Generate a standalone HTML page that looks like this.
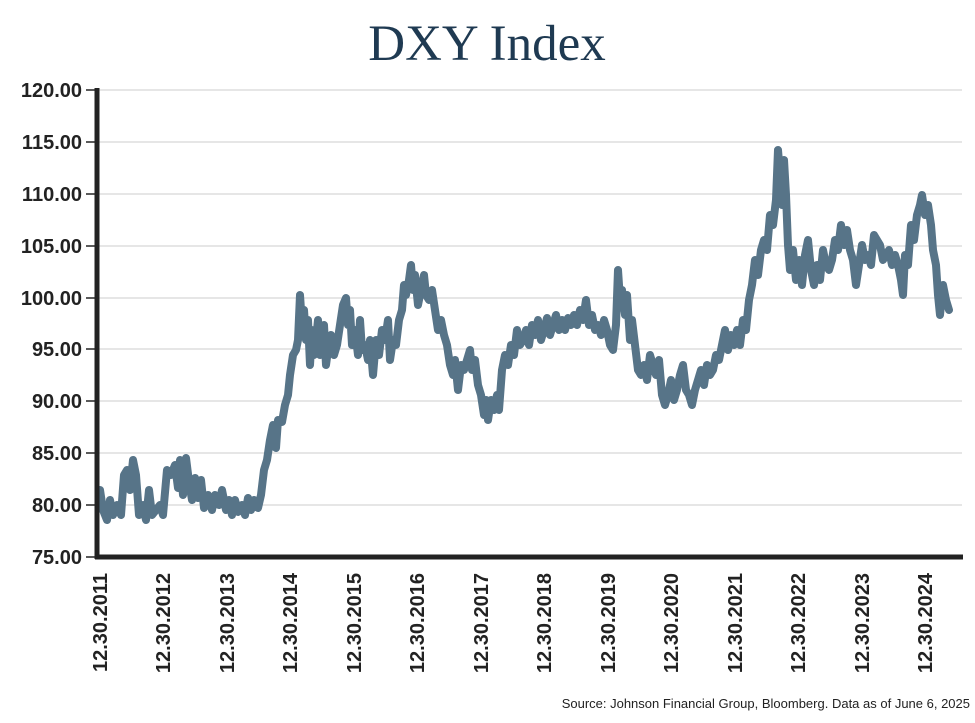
<!DOCTYPE html>
<html><head><meta charset="utf-8"><style>
body{margin:0;background:#fff;}
svg{display:block;}
</style></head><body>
<svg width="975" height="723" xmlns="http://www.w3.org/2000/svg">
<text x="487" y="60" text-anchor="middle" font-family="Liberation Serif, serif" font-size="51" fill="#1f3a52">DXY Index</text>
<g stroke="#d6d6d6" stroke-width="1.3">
<line x1="97" x2="962" y1="90" y2="90"/><line x1="97" x2="962" y1="142" y2="142"/><line x1="97" x2="962" y1="194" y2="194"/><line x1="97" x2="962" y1="246" y2="246"/><line x1="97" x2="962" y1="298" y2="298"/><line x1="97" x2="962" y1="349" y2="349"/><line x1="97" x2="962" y1="401" y2="401"/><line x1="97" x2="962" y1="453" y2="453"/><line x1="97" x2="962" y1="505" y2="505"/>
</g>
<g stroke="#222" stroke-width="1.5">
<line x1="86" x2="97" y1="90" y2="90"/><line x1="86" x2="97" y1="142" y2="142"/><line x1="86" x2="97" y1="194" y2="194"/><line x1="86" x2="97" y1="246" y2="246"/><line x1="86" x2="97" y1="298" y2="298"/><line x1="86" x2="97" y1="349" y2="349"/><line x1="86" x2="97" y1="401" y2="401"/><line x1="86" x2="97" y1="453" y2="453"/><line x1="86" x2="97" y1="505" y2="505"/><line x1="86" x2="97" y1="557" y2="557"/>
</g>
<g font-family="Liberation Sans, sans-serif" font-size="20" font-weight="bold" fill="#222" text-anchor="end">
<text x="82" y="97">120.00</text><text x="82" y="149">115.00</text><text x="82" y="201">110.00</text><text x="82" y="253">105.00</text><text x="82" y="305">100.00</text><text x="82" y="356">95.00</text><text x="82" y="408">90.00</text><text x="82" y="460">85.00</text><text x="82" y="512">80.00</text><text x="82" y="564">75.00</text>
</g>
<polyline fill="none" stroke="#577488" stroke-width="8" stroke-linejoin="round" stroke-linecap="round" points="100,490 103,510 107,520 110,500 113,515 117,505 121,515 124,475 127,470 130,490 133,460 136,475 139,515 143,505 146,520 149,490 152,515 156,510 160,505 163,515 167,470 171,475 175,465 178,488 180,460 183,495 186,458 189,482 192,500 195,478 198,498 201,480 204,508 208,495 212,510 215,495 219,505 222,490 226,510 229,500 232,515 235,500 238,512 242,505 245,515 248,498 251,510 254,500 258,508 261,495 264,470 267,460 270,440 273,425 276,448 278,420 282,422 285,405 288,395 290,375 293,355 296,350 298,340 300,295 302,325 304,310 306,340 308,320 310,365 312,330 314,355 316,340 318,320 320,355 322,345 324,325 326,365 328,350 331,335 334,355 337,345 340,325 343,305 346,298 348,325 350,310 352,345 355,330 358,355 360,320 362,350 365,345 368,360 370,340 373,375 376,340 379,355 382,330 385,340 388,320 390,360 393,340 396,345 399,320 402,310 404,285 406,295 409,280 411,265 413,290 415,275 418,305 421,290 424,275 426,295 429,300 432,290 435,310 438,330 441,320 444,335 447,345 450,365 453,375 455,360 458,390 461,365 464,370 467,360 470,350 472,370 475,360 478,385 481,395 484,415 486,400 488,420 491,400 494,410 497,395 499,410 502,370 505,355 508,365 511,345 514,355 517,330 520,345 523,340 526,330 529,345 532,325 535,335 538,320 541,340 544,330 547,318 550,335 553,325 556,315 559,330 562,320 565,330 568,318 571,325 574,315 577,325 580,310 583,320 586,300 589,325 592,315 595,330 598,325 601,335 604,320 607,330 610,345 613,350 616,325 618,270 620,300 622,290 625,315 627,295 630,340 632,320 635,345 638,370 641,375 644,365 647,380 650,355 653,365 656,375 659,360 662,395 665,405 668,395 671,380 674,400 677,390 680,375 683,365 686,390 689,395 692,405 695,390 698,380 701,370 704,385 707,365 710,375 713,370 716,355 719,360 722,345 725,330 728,350 731,335 734,345 737,330 740,345 743,320 746,330 749,300 752,285 755,260 758,275 761,250 764,240 767,250 770,215 773,225 776,200 778,150 780,175 782,205 784,160 786,195 788,245 790,270 793,250 796,280 799,260 802,285 805,255 808,240 811,270 814,285 817,265 820,280 823,250 826,265 829,270 832,260 835,240 838,250 841,225 844,245 847,230 850,250 853,260 856,285 859,265 862,245 865,260 868,255 871,265 874,235 877,240 880,245 883,260 886,255 889,250 892,265 895,255 898,265 901,280 903,295 905,255 908,265 911,225 914,240 917,215 920,205 922,195 925,215 928,205 931,225 933,250 936,265 938,295 940,315 943,285 946,300 949,310"/>
<line x1="97" y1="88" x2="97" y2="559" stroke="#222" stroke-width="5"/>
<line x1="95" y1="557" x2="963" y2="557" stroke="#222" stroke-width="5"/>
<g font-family="Liberation Sans, sans-serif" font-size="20" font-weight="bold" fill="#222" text-anchor="end">
<text transform="translate(107,573) rotate(-90)">12.30.2011</text>
<text transform="translate(170,573) rotate(-90)">12.30.2012</text>
<text transform="translate(234,573) rotate(-90)">12.30.2013</text>
<text transform="translate(297,573) rotate(-90)">12.30.2014</text>
<text transform="translate(361,573) rotate(-90)">12.30.2015</text>
<text transform="translate(424,573) rotate(-90)">12.30.2016</text>
<text transform="translate(488,573) rotate(-90)">12.30.2017</text>
<text transform="translate(551,573) rotate(-90)">12.30.2018</text>
<text transform="translate(615,573) rotate(-90)">12.30.2019</text>
<text transform="translate(678,573) rotate(-90)">12.30.2020</text>
<text transform="translate(742,573) rotate(-90)">12.30.2021</text>
<text transform="translate(805,573) rotate(-90)">12.30.2022</text>
<text transform="translate(869,573) rotate(-90)">12.30.2023</text>
<text transform="translate(932,573) rotate(-90)">12.30.2024</text>
</g>
<text x="970" y="708" text-anchor="end" font-family="Liberation Sans, sans-serif" font-size="13" fill="#222">Source: Johnson Financial Group, Bloomberg. Data as of June 6, 2025</text>
</svg>
</body></html>
